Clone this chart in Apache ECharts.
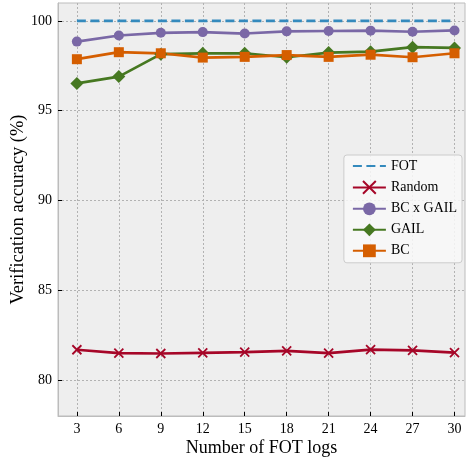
<!DOCTYPE html>
<html><head><meta charset="utf-8">
<script src="https://cdn.jsdelivr.net/npm/echarts@6/dist/echarts.min.js"></script>
<style>html,body{margin:0;padding:0;background:#fff}#c{width:470px;height:459px}</style>
</head><body><div id="c"></div>
<script>
const xs = [3, 6, 9, 12, 15, 18, 21, 24, 27, 30];
const fot = [100, 100, 100, 100, 100, 100, 100, 100, 100, 100];
const random = [81.69, 81.50, 81.48, 81.52, 81.56, 81.63, 81.50, 81.70, 81.65, 81.53];
const bcxgail = [98.85, 99.19, 99.34, 99.38, 99.30, 99.42, 99.44, 99.46, 99.40, 99.47];
const gail = [96.52, 96.90, 98.15, 98.20, 98.20, 97.98, 98.24, 98.29, 98.54, 98.50];
const bc = [97.87, 98.26, 98.20, 97.96, 98.00, 98.10, 98.00, 98.12, 97.98, 98.20];
const yTicks = [80, 85, 90, 95, 100];

const pair = arr => xs.map((x, i) => [x, arr[i]]);
const font = 'Liberation Serif';
const chart = echarts.init(document.getElementById('c'), null, {renderer: 'canvas'});
const lw = 2.7;
chart.setOption({
  animation: false,
  backgroundColor: '#fff',
  grid: {left: 58, right: 5, top: 3, bottom: 43, outerBoundsMode: 'none', containLabel: false,
         show: true, backgroundColor: '#eeeeee', borderColor: '#bcbcbc', borderWidth: 1},
  xAxis: {
    type: 'value', min: 1.65, max: 30.75,
    name: 'Number of FOT logs', nameLocation: 'middle', nameGap: 23, nameMoveOverlap: false,
    nameTextStyle: {fontFamily: font, fontSize: 18, color: '#000'},
    axisLine: {show: true, onZero: false, lineStyle: {color: '#bcbcbc'}},
    axisTick: {show: true, inside: true, length: 4, customValues: xs, lineStyle: {color: '#000', width: 1}},
    axisLabel: {customValues: xs, fontFamily: font, fontSize: 14, color: '#000', margin: 6},
    splitLine: {show: true, lineStyle: {color: '#b2b2b2', type: [2, 2], width: 1}}
  },
  yAxis: {
    type: 'value', min: 78, max: 101,
    name: 'Verification accuracy (%)', nameLocation: 'middle', nameGap: 30, nameMoveOverlap: false,
    nameTextStyle: {fontFamily: font, fontSize: 18.5, color: '#000'},
    axisLine: {show: true, onZero: false, lineStyle: {color: '#bcbcbc'}},
    axisTick: {show: true, inside: true, length: 4, customValues: yTicks, lineStyle: {color: '#000', width: 1}},
    axisLabel: {customValues: yTicks, fontFamily: font, fontSize: 14, color: '#000', margin: 6},
    splitLine: {show: true, lineStyle: {color: '#b2b2b2', type: [2, 2], width: 1}}
  },
  legend: {
    right: 8, top: 155, orient: 'vertical', itemGap: 7, itemWidth: 33, itemHeight: 16,
    backgroundColor: 'rgba(248,248,248,0.85)', borderColor: '#cccccc', borderWidth: 1, borderRadius: 3,
    padding: [4, 5, 5, 8],
    textStyle: {fontFamily: font, fontSize: 14, color: '#000'},
    data: [{name: 'FOT', itemStyle: {opacity: 0}}, 'Random', 'BC x GAIL', 'GAIL', 'BC']
  },
  series: [
    {name: 'FOT', type: 'line', data: pair(fot), symbol: 'none', color: '#348ABD',
     lineStyle: {width: lw, type: [9, 4.5], color: '#348ABD'}},
    {name: 'Random', type: 'line', data: pair(random), color: '#A60628',
     symbol: 'path://M0,0L10,10M10,0L0,10', symbolSize: 9,
     itemStyle: {color: '#A60628', borderColor: '#A60628', borderWidth: 1.8},
     lineStyle: {width: lw, color: '#A60628'}},
    {name: 'BC x GAIL', type: 'line', data: pair(bcxgail), color: '#7A68A6',
     symbol: 'circle', symbolSize: 10, itemStyle: {color: '#7A68A6'},
     lineStyle: {width: lw, color: '#7A68A6'}},
    {name: 'GAIL', type: 'line', data: pair(gail), color: '#467821',
     symbol: 'diamond', symbolSize: 13, itemStyle: {color: '#467821'},
     lineStyle: {width: lw, color: '#467821'}},
    {name: 'BC', type: 'line', data: pair(bc), color: '#D55E00',
     symbol: 'rect', symbolSize: 10, itemStyle: {color: '#D55E00'},
     lineStyle: {width: lw, color: '#D55E00'}}
  ]
});
</script></body></html>
